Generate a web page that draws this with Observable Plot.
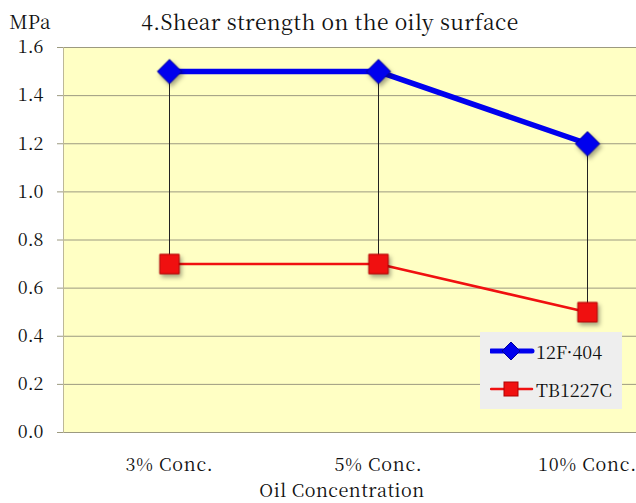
<!DOCTYPE html>
<html>
<head>
<meta charset="utf-8">
<script src="https://cdn.jsdelivr.net/npm/d3@7"></script>
<script src="https://cdn.jsdelivr.net/npm/@observablehq/plot@0.6"></script>
</head>
<body style="margin:0;background:#fff">
<div id="wrap" style="position:relative;width:636px;height:503px;overflow:hidden;font-family:'Noto Serif CJK JP','Liberation Serif',serif"></div>
<script>
const categories = ["3% Conc.", "5% Conc.", "10% Conc."];
const seriesNames = ["12F·404", "TB1227C"];
const values12F = [1.5, 1.5, 1.2];
const valuesTB = [0.7, 0.7, 0.5];
const yTicks = [0, 0.2, 0.4, 0.6, 0.8, 1.0, 1.2, 1.4, 1.6];
const titleText = "4.Shear strength on the oily surface";
const yUnit = "MPa";
const xTitle = "Oil Concentration";

const blue = "#0000ee", blueDark = "#00009a";
const red = "#f01010", redDark = "#b00000";
const font = "'Noto Serif CJK JP', 'Liberation Serif', serif";

const dataA = categories.map((c, i) => ({cat: c, v: values12F[i]}));
const dataB = categories.map((c, i) => ({cat: c, v: valuesTB[i]}));
const drops = categories.map((c, i) => ({cat: c, hi: values12F[i], lo: valuesTB[i]}));
const shadow = "drop-shadow(2px 3px 2px rgba(0,0,0,0.35))";

const chart = Plot.plot({
  width: 636,
  height: 503,
  marginLeft: 63,
  marginRight: 0,
  marginTop: 47,
  marginBottom: 71,
  x: {type: "point", domain: categories, range: [63, 692], padding: 0.5, label: null},
  y: {domain: [0, 1.6], label: null},
  marks: [
    Plot.frame({fill: "#ffffc4", stroke: null}),
    Plot.gridY(yTicks, {stroke: "#9c9a80", strokeOpacity: 1, strokeWidth: 1}),
    Plot.ruleY([0], {stroke: "#9c9a80"}),
    Plot.axisY(yTicks, {tickSize: 6, tickPadding: 14, tickFormat: d3.format(".1f"), stroke: "#9c9a80", fill: "#111", fontSize: 18, fontFamily: font}),
    Plot.axisX({tickSize: 0, tickPadding: 26, fill: "#111", fontSize: 18, fontFamily: font}),
    Plot.frame({anchor: "left", stroke: "#bdb898"}),
    Plot.ruleX(drops, {x: "cat", y1: "lo", y2: "hi", stroke: "#222", strokeWidth: 1}),
    Plot.line(dataB, {x: "cat", y: "v", stroke: red, strokeWidth: 2.5}),
    Plot.line(dataA, {x: "cat", y: "v", stroke: blue, strokeWidth: 5.5}),
    Plot.dot(dataA, {x: "cat", y: "v", symbol: "diamond2", r: 11, fill: blue, stroke: blueDark, strokeWidth: 1, imageFilter: shadow}),
    Plot.dot(dataB, {x: "cat", y: "v", symbol: "square", r: 11, fill: red, stroke: redDark, strokeWidth: 1, imageFilter: shadow}),
    Plot.text([titleText], {frameAnchor: "top", dx: -20, dy: -32, fontSize: 21, fill: "#111", fontFamily: font}),
    Plot.text([yUnit], {frameAnchor: "top-left", textAnchor: "end", dx: -13, dy: -32, fontSize: 19, fill: "#111", fontFamily: font}),
    Plot.text([xTitle], {frameAnchor: "bottom", dx: -8, dy: 64, fontSize: 18, fill: "#111", fontFamily: font})
  ]
});
chart.setAttribute("font-family", font);
chart.style.fontFamily = font;
chart.style.background = "transparent";
chart.querySelectorAll("text").forEach(t => {
  t.setAttribute("font-family", font);
  if (categories.includes(t.textContent)) t.style.letterSpacing = "0.8px";
  if (t.textContent === xTitle) t.style.letterSpacing = "0.5px";
  if (t.textContent === titleText) t.style.letterSpacing = "0.4px";
});

const wrap = document.getElementById("wrap");
wrap.appendChild(chart);

// Legend (HTML overlay)
const legend = document.createElement("div");
Object.assign(legend.style, {position: "absolute", left: "480px", top: "332px", width: "142px", height: "77px",
  background: "#eeeeee", fontSize: "18px", color: "#111", fontFamily: font});
const items = [
  {name: seriesNames[0], color: blue, dark: blueDark, width: 5, sym: "diamond", top: 6},
  {name: seriesNames[1], color: red, dark: redDark, width: 2.5, sym: "square", top: 44}
];
for (const it of items) {
  const div = document.createElement("div");
  Object.assign(div.style, {position: "absolute", left: "10px", top: it.top + "px", display: "flex", alignItems: "center", height: "26px"});
  const s = d3.create("svg").attr("width", 46).attr("height", 26).style("display", "block");
  s.append("line").attr("x1", 1).attr("x2", 42).attr("y1", 13).attr("y2", 13)
    .attr("stroke", it.color).attr("stroke-width", it.width).attr("stroke-linecap", "round");
  if (it.sym === "diamond") {
    s.append("path").attr("d", "M21,4 L30,13 L21,22 L12,13 Z").attr("fill", it.color).attr("stroke", it.dark);
  } else {
    s.append("rect").attr("x", 14).attr("y", 6).attr("width", 14).attr("height", 14).attr("fill", it.color).attr("stroke", it.dark);
  }
  div.appendChild(s.node());
  const t = document.createElement("span");
  t.textContent = it.name;
  div.appendChild(t);
  legend.appendChild(div);
}
wrap.appendChild(legend);
</script>
</body>
</html>
